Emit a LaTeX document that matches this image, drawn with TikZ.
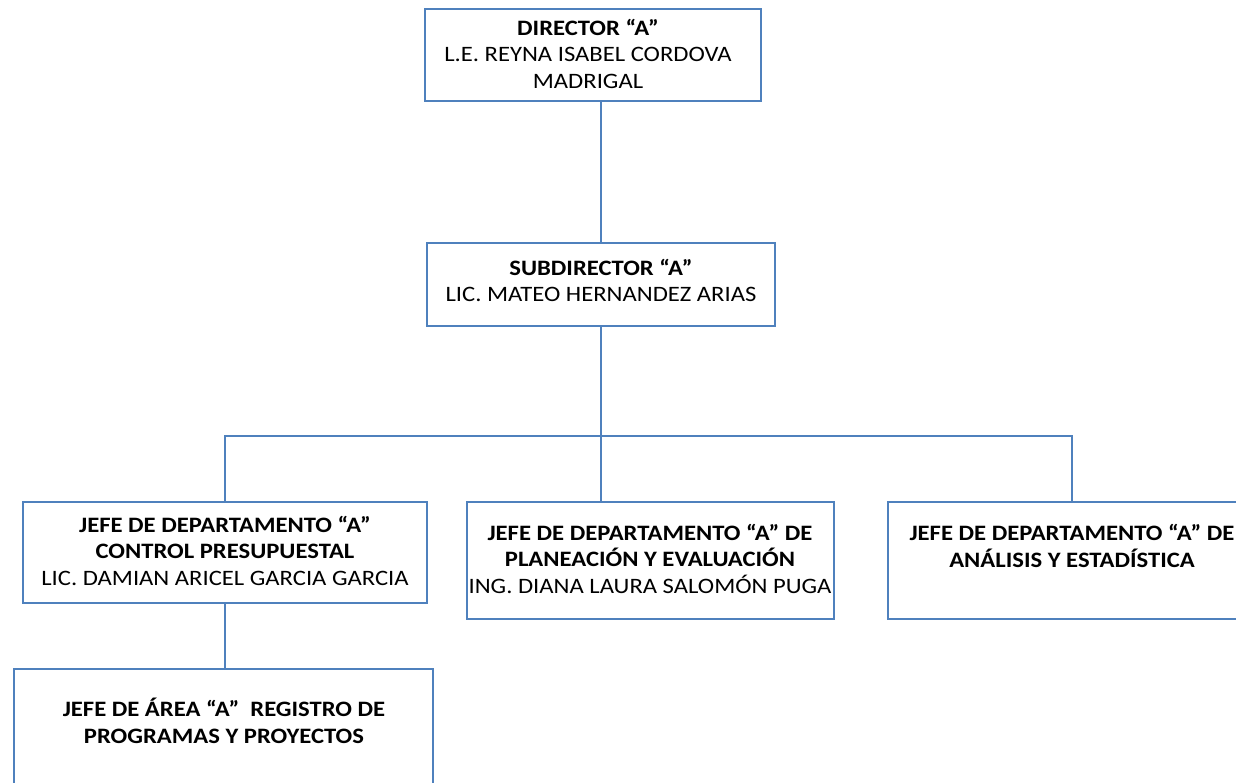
\documentclass[tikz,border=0pt]{standalone}
\usepackage{fontspec}
\setmainfont[FakeStretch=1.12]{Carlito}
\begin{document}
\begin{tikzpicture}[x=1pt,y=-1pt,
  box/.style={draw=boxblue,line width=2.6pt,fill=white,inner sep=0pt},
  conn/.style={draw=boxblue,line width=1.1pt},
  lbl/.style={align=center,inner sep=0pt,anchor=base,font=\fontsize{22}{26.5}\selectfont}]
\definecolor{boxblue}{RGB}{79,129,189}
\useasboundingbox (0,0) rectangle (1236,783);
\fill[white] (0,0) rectangle (1236,783);
% boxes
\node[box,minimum width=336pt,minimum height=92pt] (dir) at (593,55) {};
\node[box,minimum width=348pt,minimum height=83pt] (sub) at (601,284.5) {};
\node[box,minimum width=404pt,minimum height=101pt] (jcp) at (225,552.5) {};
\node[box,minimum width=367pt,minimum height=117pt] (jpe) at (650.5,560.5) {};
\node[box,minimum width=368pt,minimum height=117pt] (jae) at (1072,560.5) {};
\node[box,minimum width=419pt,minimum height=140pt] (area) at (223.5,739) {};
% connectors
\coordinate (bus) at (0,436);
\draw[conn] (sub.north |- dir.south) -- (sub.north);
\draw[conn] (sub.south) -- (sub.south |- jpe.north);
\draw[conn] (jcp.north) -- (jcp.north |- bus) -- (jae.north |- bus) -- (jae.north);
\draw[conn] (jcp.south) -- (jcp.south |- area.north);
% texts (anchor = baseline of last line)
\node[lbl] (tdir) at (588,88.3) {\textbf{DIRECTOR “A”}\\L.E. REYNA ISABEL CORDOVA\\MADRIGAL};
\node[lbl] (tsub) at (601,302) {\textbf{SUBDIRECTOR “A”}\\LIC. MATEO HERNANDEZ ARIAS};
\node[lbl] (tjcp) at (225,585) {\textbf{JEFE DE DEPARTAMENTO “A”}\\\textbf{CONTROL PRESUPUESTAL}\\LIC. DAMIAN ARICEL GARCIA GARCIA};
\node[lbl] (tjpe) at (650,593) {\textbf{JEFE DE DEPARTAMENTO “A” DE}\\\textbf{PLANEACIÓN Y EVALUACIÓN}\\ING. DIANA LAURA SALOMÓN PUGA};
\node[lbl] (tjae) at (1072,567) {\textbf{JEFE DE DEPARTAMENTO “A” DE}\\\textbf{ANÁLISIS Y ESTADÍSTICA}};
\node[lbl] (tarea) at (224,743) {\textbf{JEFE DE ÁREA “A”~~REGISTRO DE}\\\textbf{PROGRAMAS Y PROYECTOS}};
\end{tikzpicture}
\end{document}
